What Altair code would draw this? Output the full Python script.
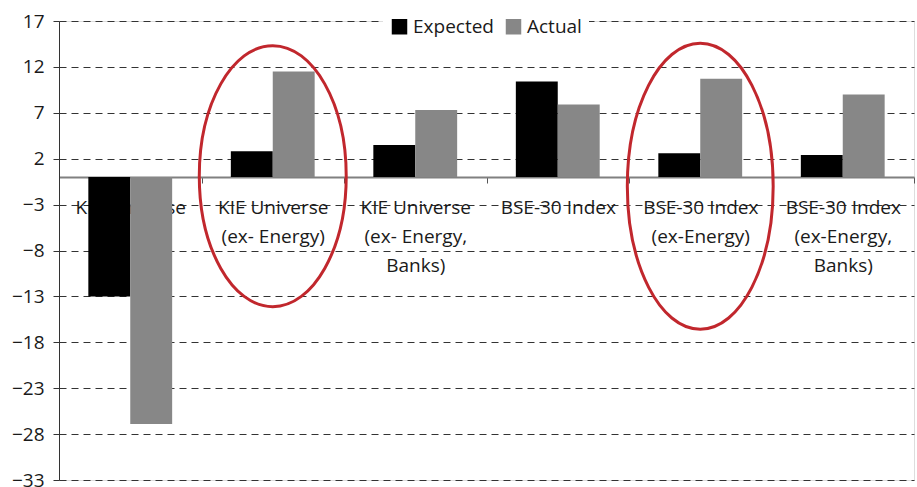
import altair as alt
import pandas as pd

categories = [
    "KIE Universe",
    "KIE Universe\n(ex- Energy)",
    "KIE Universe\n(ex- Energy,\nBanks)",
    "BSE-30 Index",
    "BSE-30 Index\n(ex-Energy)",
    "BSE-30 Index\n(ex-Energy,\nBanks)",
]
expected = [-13.0, 2.8, 3.5, 10.4, 2.6, 2.4]
actual = [-26.9, 11.5, 7.3, 7.9, 10.7, 9.0]
series = ["Expected", "Actual"]
colors = ["#000000", "#878787"]
y_ticks = [-33, -28, -23, -18, -13, -8, -3, 2, 7, 12, 17]

# highlighted categories (red ellipses)
hl_categories = [categories[1], categories[4]]
hl_centers = [0.1, -1.0]

rows = []
for c, e, a in zip(categories, expected, actual):
    rows.append({"cat": c, "series": "Expected", "value": e})
    rows.append({"cat": c, "series": "Actual", "value": a})
df = pd.DataFrame(rows)
hl1 = pd.DataFrame({"cat": [hl_categories[0]], "y": [hl_centers[0]]})
hl2 = pd.DataFrame({"cat": [hl_categories[1]], "y": [hl_centers[1]]})

FONT = "Open Sans"
FS = 19
TXT = "#1a1a1a"

xscale = alt.Scale(domain=categories, paddingInner=0, paddingOuter=0)
yscale = alt.Scale(domain=[-33, 17], nice=False, zero=False)

bars = alt.Chart(df).mark_bar().encode(
    x=alt.X("cat:N", scale=xscale, sort=categories, title=None,
            axis=alt.Axis(labelExpr="split(datum.label, '\\n')", labelAngle=0,
                          tickBand="extent", offset=-303, domainColor="#808080",
                          domainWidth=2, tickColor="#555555", tickSize=6,
                          labelPadding=15, labelFontSize=FS, labelFont=FONT,
                          labelColor=TXT, labelLineHeight=29, labelBaseline="top",
                          grid=False)),
    xOffset=alt.XOffset("series:N", sort=series,
                        scale=alt.Scale(domain=series, paddingInner=0, paddingOuter=0.7)),
    y=alt.Y("value:Q", scale=yscale, title=None,
            axis=alt.Axis(values=y_ticks, grid=True, gridDash=[7, 5], gridColor="#333333",
                          gridWidth=1, domainColor="#333333", tickColor="#333333",
                          tickSize=6, labelPadding=9, labelFontSize=FS, labelFont=FONT,
                          labelColor=TXT)),
    color=alt.Color("series:N", sort=series, scale=alt.Scale(domain=series, range=colors),
                    legend=alt.Legend(title=None, orient="none", legendX=324, legendY=-11,
                                      direction="horizontal", symbolType="square",
                                      symbolSize=240, symbolStrokeWidth=0,
                                      labelFontSize=FS, labelFont=FONT, labelColor=TXT,
                                      labelOffset=4, columnPadding=10,
                                      fillColor="white", padding=7)),
)

e1 = alt.Chart(hl1).mark_point(
    shape="M -0.563,0 A 0.563,1 0 1,1 0.563,0 A 0.563,1 0 1,1 -0.563,0",
    size=68121, filled=False, stroke="#c1272d", strokeWidth=3, opacity=1,
).encode(x=alt.X("cat:N", scale=xscale, sort=categories), y=alt.Y("y:Q", scale=yscale))

e2 = alt.Chart(hl2).mark_point(
    shape="M -0.51,0 A 0.51,1 0 1,1 0.51,0 A 0.51,1 0 1,1 -0.51,0",
    size=81796, filled=False, stroke="#c1272d", strokeWidth=3, opacity=1,
).encode(x=alt.X("cat:N", scale=xscale, sort=categories), y=alt.Y("y:Q", scale=yscale))

chart = alt.layer(bars, e1, e2).properties(
    width=855, height=459,
    autosize=alt.AutoSizeParams(type="none"),
    padding={"left": 59, "top": 21, "right": 3, "bottom": 7},
).configure_view(stroke=None).configure(background="white")

chart.save("out.html", embed_options={"renderer": "svg", "actions": False})
